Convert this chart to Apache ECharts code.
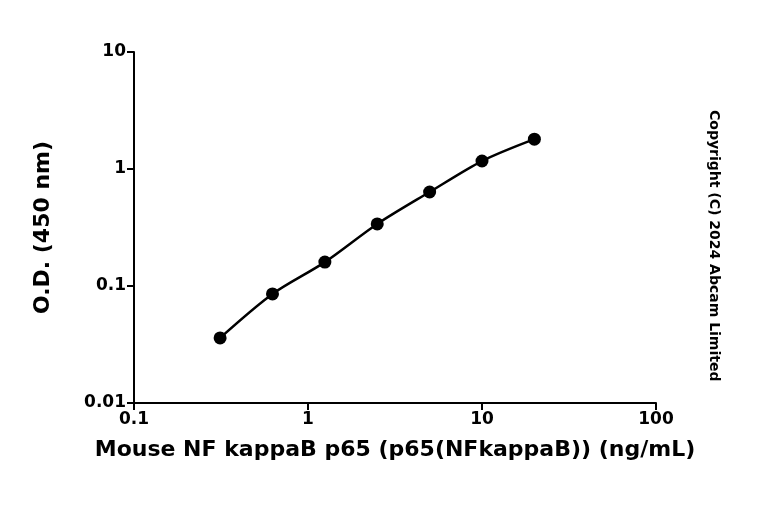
<!DOCTYPE html>
<html><head><meta charset="utf-8">
<script src="https://cdn.jsdelivr.net/npm/echarts@6/dist/echarts.min.js"></script>
<style>html,body{margin:0;padding:0;background:#fff}#c{width:768px;height:507px}</style>
</head><body><div id="c"></div>
<script>
const conc = [0.3125, 0.625, 1.25, 2.5, 5, 10, 20];
const od = [0.036, 0.0855, 0.160, 0.339, 0.636, 1.17, 1.80];
const xTitle = 'Mouse NF kappaB p65 (p65(NFkappaB)) (ng/mL)';
const yTitle = 'O.D. (450 nm)';
const copyright = 'Copyright (C) 2024 Abcam Limited';
const font = 'DejaVu Sans';
const ch = echarts.init(document.getElementById('c'));
const axisCommon = {
  type: 'log', logBase: 10,
  axisLine: {show: true, lineStyle: {color: '#000', width: 2}},
  axisTick: {show: true, inside: false, length: 7, lineStyle: {color: '#000', width: 2}},
  minorTick: {show: false},
  splitLine: {show: false},
  axisLabel: {color: '#000', fontFamily: font, fontWeight: 'bold', fontSize: 17,
    formatter: v => String(v)},
  nameLocation: 'middle',
  nameTextStyle: {color: '#000', fontFamily: font, fontWeight: 'bold', fontSize: 22}
};
ch.setOption({
  animation: false,
  grid: {left: 134, right: 112, top: 52, bottom: 104},
  xAxis: Object.assign({}, axisCommon, {min: 0.1, max: 100, name: xTitle, nameGap: 36}),
  yAxis: Object.assign({}, axisCommon, {min: 0.01, max: 10, name: yTitle, nameGap: 80}),
  graphic: [{type: 'text', left: 707, top: 110, rotation: -Math.PI/2,
    style: {text: copyright, fill: '#000', font: 'bold 14px ' + font}}],
  series: [{type: 'line', data: conc.map((x,i)=>[x, od[i]]), smooth: 0.3,
    symbol: 'circle', symbolSize: 13, itemStyle: {color: '#000'},
    lineStyle: {color: '#000', width: 2.5}}]
});
</script></body></html>
